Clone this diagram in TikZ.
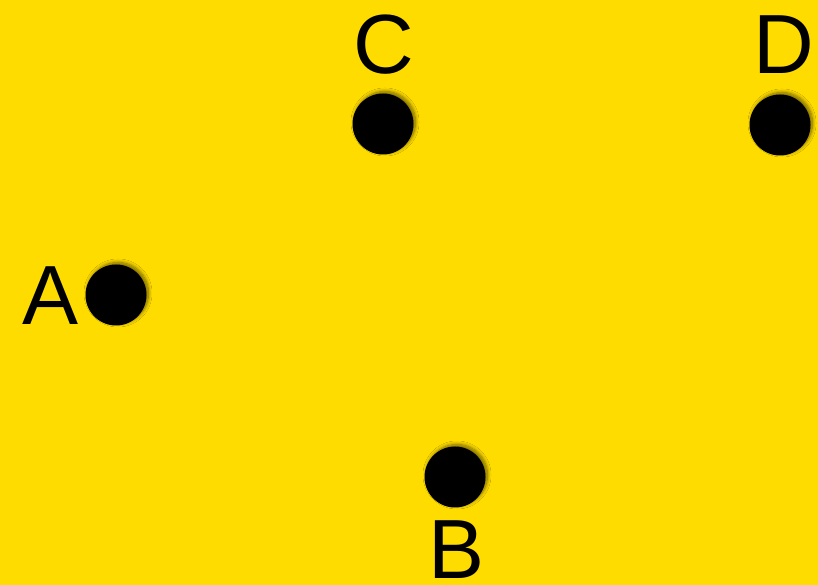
\documentclass[tikz,border=0pt]{standalone}
\usepackage{fontspec}
\setmainfont{Liberation Sans}
\usetikzlibrary{shadows.blur}
\definecolor{bgyellow}{HTML}{FFDC00}
\tikzset{
  x=1pt, y=1pt,
  dot/.style={circle, fill=black, minimum size=61pt, inner sep=0pt,
    blur shadow={shadow xshift=2pt, shadow yshift=2pt, shadow blur radius=3.5pt,
                 shadow blur steps=12, shadow opacity=55}},
  lbl/.style={font=\fontsize{84}{84}\selectfont, inner sep=0pt, anchor=base}
}
\begin{document}
\begin{tikzpicture}
  % canvas
  \fill[bgyellow] (0,0) rectangle (818,585);
  \useasboundingbox (0,0) rectangle (818,585);
  % points
  \node[dot] (a) at (116,290) {};
  \node[dot] (b) at (455,108) {};
  \node[dot] (c) at (383,461) {};
  \node[dot] (d) at (780,460) {};
  % labels
  \node[lbl] (la) at (51,260) {A};
  \node[lbl] (lb) at (457,6) {B};
  \node[lbl] (lc) at (384,511) {C};
  \node[lbl] (ld) at (784,511) {D};
\end{tikzpicture}
\end{document}
